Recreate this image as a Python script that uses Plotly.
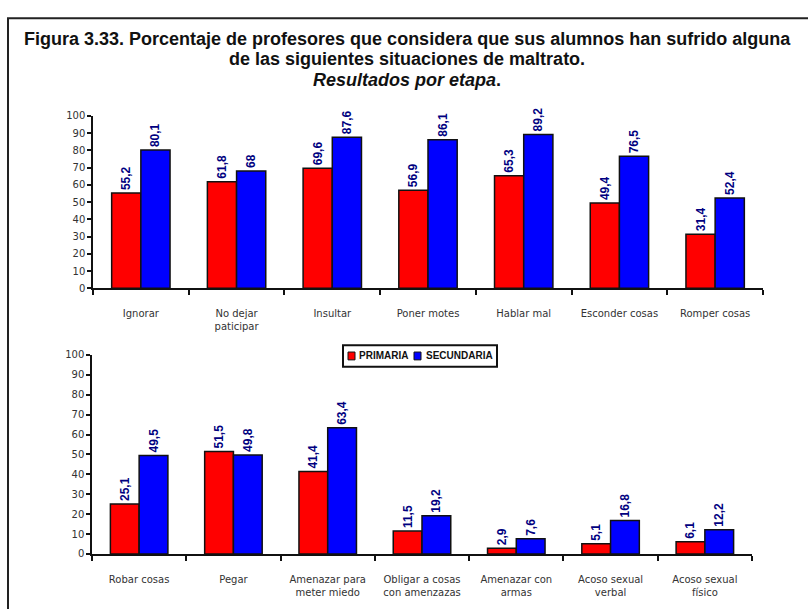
import plotly.graph_objects as go

# Teacher survey: share of teachers reporting each type of mistreatment, by stage
cats_top = ["Ignorar", "No dejar<br>paticipar", "Insultar", "Poner motes",
            "Hablar mal", "Esconder cosas", "Romper cosas"]
prim_top = [55.2, 61.8, 69.6, 56.9, 65.3, 49.4, 31.4]
secu_top = [80.1, 68, 87.6, 86.1, 89.2, 76.5, 52.4]

cats_bot = ["Robar cosas", "Pegar", "Amenazar para<br>meter miedo",
            "Obligar a cosas<br>con amenzazas", "Amenazar con<br>armas",
            "Acoso sexual<br>verbal", "Acoso sexual<br>físico"]
prim_bot = [25.1, 51.5, 41.4, 11.5, 2.9, 5.1, 6.1]
secu_bot = [49.5, 49.8, 63.4, 19.2, 7.6, 16.8, 12.2]

series_names = ["PRIMARIA", "SECUNDARIA"]
y_ticks = list(range(0, 101, 10))

title_lines = [
    "Figura 3.33. Porcentaje de profesores que considera que sus alumnos han sufrido alguna",
    "de las siguientes situaciones de maltrato.",
    "<i>Resultados por etapa</i>.",
]

W, H = 808, 609
RED, BLUE, NAVY, INK = "#FF0000", "#0000FF", "#000080", "#111111"
COLORS = [RED, BLUE]


def fmt(v):
    s = f"{v:.1f}".replace(".", ",")
    return s[:-2] if s.endswith(",0") else s


def px_x(p):
    return p / W


def px_y(p):
    return 1 - p / H


fig = go.Figure()


def add_pair(cats, prim, secu, xa, ya):
    for name, vals, col in zip(series_names, (prim, secu), COLORS):
        fig.add_trace(go.Bar(
            x=cats, y=vals, name=name, xaxis=xa, yaxis=ya,
            marker=dict(color=col, line=dict(color=INK, width=1.5)),
            text=[fmt(v) for v in vals], textposition="outside",
            textangle=-90, cliponaxis=False,
            textfont=dict(family="Liberation Sans", size=12, color=NAVY, weight="bold"),
            showlegend=False,
        ))


add_pair(cats_top, prim_top, secu_top, "x", "y")
add_pair(cats_bot, prim_bot, secu_bot, "x2", "y2")

tickfont = dict(family="DejaVu Sans", size=10, color="#333333")
xcommon = dict(type="category", showline=True, linecolor=INK, linewidth=1.5,
               ticks="outside", tickson="boundaries", ticklen=5, tickwidth=1.5,
               tickcolor=INK, tickfont=tickfont, showgrid=False,
               ticklabelstandoff=15)
ycommon = dict(range=[0, 100], tickvals=y_ticks, showline=True, linecolor=INK,
               linewidth=1.5, ticks="outside", ticklen=4, tickwidth=1.5,
               tickcolor=INK, tickfont=tickfont, showgrid=False, zeroline=False)

# Outer frame
shapes = [dict(type="rect", xref="paper", yref="paper",
               x0=px_x(8), x1=1.05, y0=-0.05, y1=px_y(12.5),
               line=dict(color="#222222", width=2))]

# Compact legend box placed above the lower panel
leg_font = dict(family="Liberation Sans", size=10, color=INK, weight="bold")
shapes.append(dict(type="rect", xref="paper", yref="paper",
                   x0=px_x(343), x1=px_x(497), y0=px_y(368), y1=px_y(346),
                   line=dict(color=INK, width=2), fillcolor="white"))
annotations = []
leg_items = [(348, 357), (414, 424)]
for (sx, tx), name, col in zip(leg_items, series_names, COLORS):
    shapes.append(dict(type="rect", xref="paper", yref="paper",
                       x0=px_x(sx), x1=px_x(sx + 7), y0=px_y(361), y1=px_y(353),
                       line=dict(color=INK, width=1), fillcolor=col))
    annotations.append(dict(xref="paper", yref="paper", x=px_x(tx), y=px_y(357),
                            xanchor="left", yanchor="middle", showarrow=False,
                            text=name, font=leg_font))

title_font = dict(family="Liberation Sans", size=18, color=INK, weight="bold")
for line, yc in zip(title_lines, (33.5, 54, 75)):
    annotations.append(dict(xref="paper", yref="paper", x=px_x(407), y=px_y(yc),
                            xanchor="center", yanchor="middle", showarrow=False,
                            text=line, font=title_font))

fig.update_layout(
    width=W, height=H,
    margin=dict(l=0, r=0, t=0, b=0),
    paper_bgcolor="white", plot_bgcolor="white",
    barmode="group", bargap=0.39, bargroupgap=0,
    showlegend=False,
    xaxis=dict(domain=[px_x(93), px_x(763)], anchor="y", **xcommon),
    yaxis=dict(domain=[px_y(288), px_y(112)], anchor="x", **ycommon),
    xaxis2=dict(domain=[px_x(92), px_x(752)], anchor="y2", **xcommon),
    yaxis2=dict(domain=[px_y(559), px_y(356)], anchor="x2", **ycommon),
    shapes=shapes,
    annotations=annotations,
)

fig.write_html("out.html")
